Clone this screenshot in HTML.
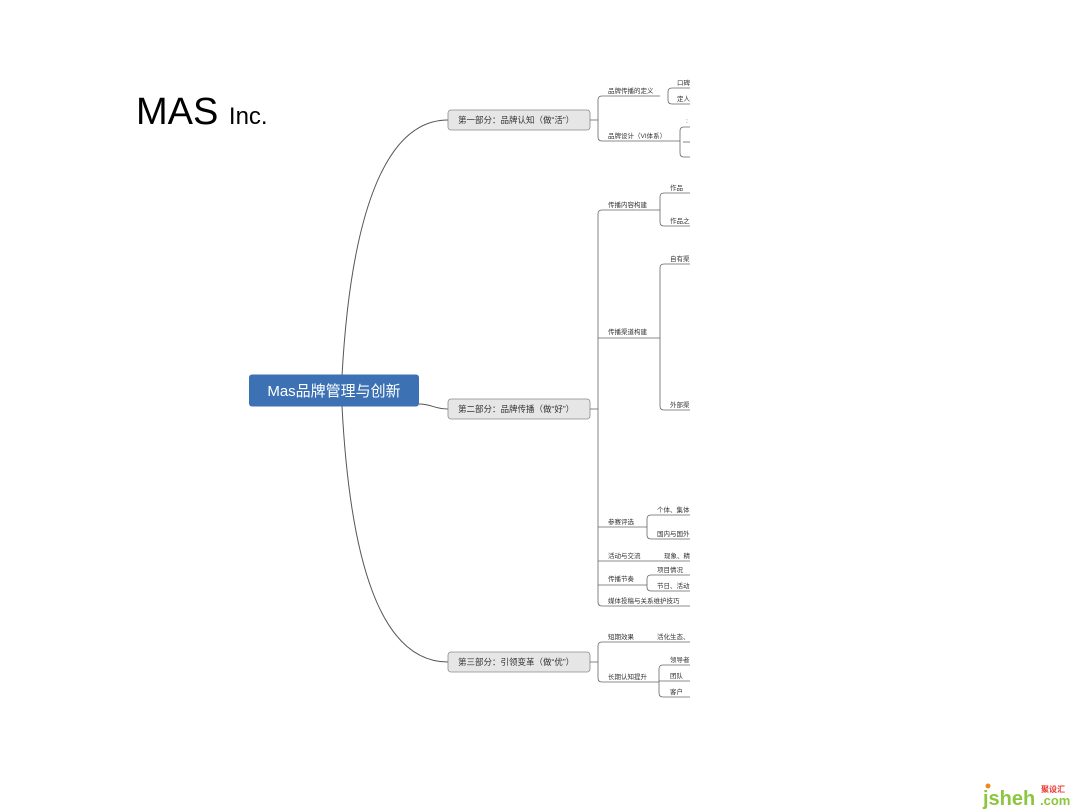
<!DOCTYPE html>
<html><head><meta charset="utf-8"><style>
html,body{margin:0;padding:0;background:#fff;}
svg{display:block;}
text{font-family:"Liberation Sans","Noto Sans CJK SC",sans-serif;}
.s{font-size:6.5px;fill:#333;}
.l1{font-size:8.5px;fill:#333;}
</style></head><body>
<svg width="1080" height="810" viewBox="0 0 1080 810" xmlns="http://www.w3.org/2000/svg">
<defs><clipPath id="c"><rect x="0" y="0" width="690" height="810"/></clipPath></defs>
<text x="136" y="124" font-size="38" fill="#000">MAS <tspan font-size="24">Inc.</tspan></text>

<g fill="none" stroke="#555" stroke-width="1">
<path d="M342 376 C350 230 380 120 448 120"/>
<path d="M342 406 C350 560 380 662 448 662"/>
<path d="M419 404 C432 404 434 409 448 409"/>
</g>

<rect x="249" y="374.5" width="170" height="32" rx="3" fill="#3c71b3"/>
<text x="334" y="396" font-size="15" fill="#fff" text-anchor="middle">Mas品牌管理与创新</text>

<g fill="#e6e6e6" stroke="#8a8a8a" stroke-width="0.8">
<rect x="448" y="110" width="142" height="20" rx="3"/>
<rect x="448" y="399" width="142" height="20" rx="3"/>
<rect x="448" y="652" width="142" height="20" rx="3"/>
</g>
<text class="l1" x="458" y="123">第一部分：品牌认知（做“活”）</text>
<text class="l1" x="458" y="412">第二部分：品牌传播（做“好”）</text>
<text class="l1" x="458" y="665">第三部分：引领变革（做“优”）</text>

<g clip-path="url(#c)">
<g fill="none" stroke="#666" stroke-width="0.8">
<!-- section 1 -->
<path d="M590 120 H598"/>
<path d="M660 96 H602 Q598 96 598 100 V137 Q598 141 602 141 H680"/>
<path d="M690 88 H672 Q668 88 668 92 V100 Q668 104 672 104 H690"/>
<path d="M690 127 H684 Q680 127 680 131 V153 Q680 157 684 157 H690"/>
<path d="M683 142 H690"/>
<!-- section 2 -->
<path d="M590 409 H598"/>
<path d="M660 210 H602 Q598 210 598 214 V602 Q598 606 602 606 H690"/>
<path d="M598 338 H660"/>
<path d="M598 527 H647"/>
<path d="M598 561 H690"/>
<path d="M598 585 H647"/>
<path d="M690 193 H664 Q660 193 660 197 V222 Q660 226 664 226 H690"/>
<path d="M690 264 H664 Q660 264 660 268 V406 Q660 410 664 410 H690"/>
<path d="M690 515 H651 Q647 515 647 519 V535 Q647 539 651 539 H690"/>
<path d="M690 575 H651 Q647 575 647 579 V587 Q647 591 651 591 H690"/>
<!-- section 3 -->
<path d="M590 662 H598"/>
<path d="M690 642 H602 Q598 642 598 646 V678 Q598 682 602 682 H659"/>
<path d="M690 665 H663 Q659 665 659 669 V693 Q659 697 663 697 H690"/>
<path d="M659 681 H690"/>
</g>
<text class="s" x="608" y="93">品牌传播的定义</text>
<text class="s" x="608" y="138">品牌设计（VI体系）</text>
<text class="s" x="677" y="85">口碑</text>
<text class="s" x="677" y="101">定人</text>
<text class="s" x="686" y="123">:</text>
<text class="s" x="608" y="207">传播内容构建</text>
<text class="s" x="670" y="190">作品</text>
<text class="s" x="670" y="223">作品之</text>
<text class="s" x="608" y="334">传播渠道构建</text>
<text class="s" x="670" y="261">自有渠</text>
<text class="s" x="670" y="407">外部渠</text>
<text class="s" x="608" y="524">参赛评选</text>
<text class="s" x="657" y="512">个体、集体</text>
<text class="s" x="657" y="536">国内与国外</text>
<text class="s" x="608" y="558">活动与交流</text>
<text class="s" x="664" y="558">现象、精</text>
<text class="s" x="608" y="581">传播节奏</text>
<text class="s" x="657" y="572">项目情况</text>
<text class="s" x="657" y="588">节日、活动</text>
<text class="s" x="608" y="603">媒体投稿与关系维护技巧</text>
<text class="s" x="608" y="639">短期效果</text>
<text class="s" x="657" y="639">活化生态、</text>
<text class="s" x="608" y="679">长期认知提升</text>
<text class="s" x="670" y="662">领导者</text>
<text class="s" x="670" y="678">团队</text>
<text class="s" x="670" y="694">客户</text>
</g>

<g font-family="Liberation Sans,sans-serif" font-weight="bold">
<circle cx="988" cy="786" r="2.5" fill="#f08a1c"/>
<text x="983" y="805" font-size="20" fill="#8cc63f">jsheh</text>
<text x="1040" y="805" font-size="13" fill="#8cc63f">.com</text>
<text x="1041" y="792" font-size="8" fill="#e8332a">聚设汇</text>
</g>
</svg>
</body></html>
